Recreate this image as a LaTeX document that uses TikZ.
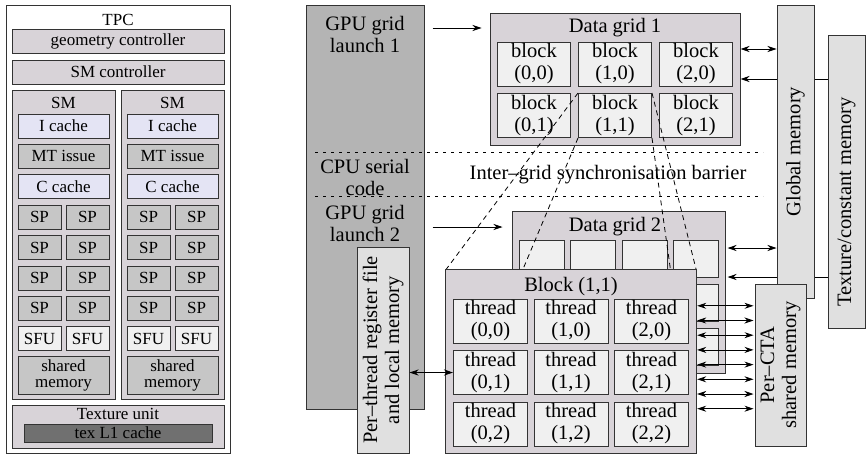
\documentclass[tikz,border=0pt]{standalone}
\usepackage{fontspec}
\setmainfont{Liberation Serif}
\usetikzlibrary{arrows.meta}

\definecolor{edge}{HTML}{333333}
\definecolor{mauve}{HTML}{D8D3D8}
\definecolor{lavender}{HTML}{E4E4F4}
\definecolor{midgray}{HTML}{C6C6C6}
\definecolor{palegray}{HTML}{F0F0F0}
\definecolor{memgray}{HTML}{E0E0E0}
\definecolor{gpugray}{HTML}{B4B4B4}
\definecolor{texgray}{HTML}{707070}

\begin{document}
\begin{tikzpicture}
  [x=1pt,y=-1pt,
   box/.style={draw=edge,line width=1pt,inner sep=0pt,align=center},
   lftfont/.style={font=\fontsize{17}{16}\selectfont},
   rgtfont/.style={font=\fontsize{20.5}{22}\selectfont},
   lft/.style={box,lftfont},
   rgt/.style={box,rgtfont},
   txt/.style={inner sep=0pt,align=center},
   conn/.style={line width=0.8pt,-{Stealth[length=9pt,width=6pt]}},
   biconn/.style={line width=0.8pt,{Stealth[length=9pt,width=6pt]}-{Stealth[length=9pt,width=6pt]}},
   syncline/.style={line width=0.8pt,dash pattern=on 2.5pt off 5.5pt},
   zoomline/.style={line width=0.8pt,dash pattern=on 5pt off 4pt}]
  \useasboundingbox (0,0) rectangle (866,455);

  \node[box,fill=white,minimum width=224,minimum height=448] (tpc) at (118,229) {};
  \node[txt,lftfont] (tpclabel) at (118,20) {TPC};
  \node[lft,fill=mauve,minimum width=212,minimum height=24] (geo) at (118,41) {geometry controller};
  \node[lft,fill=mauve,minimum width=212,minimum height=24] (smctrl) at (118,72) {SM controller};
  \foreach \s/\x in {a/63.5,b/172.5} {
    \node[lft,fill=mauve,minimum width=103,minimum height=309] (sm\s) at (\x,244.5) {};
    \node[txt,lftfont] (smlabel\s) at (\x,103) {SM};
    \node[lft,fill=lavender,minimum width=91,minimum height=24] (icache\s) at (\x,126) {I cache};
    \node[lft,fill=midgray,minimum width=91,minimum height=24] (mtissue\s) at (\x,156.4) {MT issue};
    \node[lft,fill=lavender,minimum width=91,minimum height=24] (ccache\s) at (\x,186.8) {C cache};
    \foreach \r/\y in {1/217.2,2/247.6,3/278,4/308.4} {
      \node[lft,fill=midgray,minimum width=43,minimum height=24] (sp\s\r-l) at (\x-24,\y) {SP};
      \node[lft,fill=midgray,minimum width=43,minimum height=24] (sp\s\r-r) at (\x+24,\y) {SP};
    }
    \node[lft,fill=palegray,minimum width=43,minimum height=24] (sfu\s-l) at (\x-24,338.8) {SFU};
    \node[lft,fill=palegray,minimum width=43,minimum height=24] (sfu\s-r) at (\x+24,338.8) {SFU};
    \node[lft,fill=midgray,minimum width=91,minimum height=38] (shmem\s) at (\x,375) {shared\\memory};
  }
  \node[lft,fill=mauve,minimum width=212,minimum height=43] (texunit) at (118,426.5) {};
  \node[txt,lftfont] (texlabel) at (118,414) {Texture unit};
  \node[lft,fill=texgray,minimum width=188,minimum height=18] (texl1) at (118,433) {tex L1 cache};

  \node[box,fill=gpugray,minimum width=118,minimum height=404] (gpu) at (365,207) {};
  \node[txt,rgtfont] (launch1) at (365,34) {GPU grid\\launch 1};
  \node[txt,rgtfont] (serial) at (365,177) {CPU serial\\code};
  \node[txt,rgtfont] (launch2) at (365,223) {GPU grid\\launch 2};
  \draw[syncline] (315,152) -- (763,152) (315,196) -- (763,196);
  \node[txt,rgtfont] (barrier) at (608,175) {Inter–grid synchronisation barrier};

  \node[box,fill=mauve,minimum width=250,minimum height=132] (grid1) at (615,79) {};
  \node[txt,rgtfont] (grid1title) at (615,28) {Data grid 1};
  \foreach \i/\x in {0/534,1/615,2/696}
    \foreach \j/\y in {0/64,1/115.5}
      \node[rgt,fill=palegray,minimum width=73,minimum height=44] (blk\i\j) at (\x,\y) {block\\(\i,\j)};

  \node[box,fill=mauve,minimum width=213,minimum height=162] (grid2) at (618.5,292) {};
  \node[txt,rgtfont] (grid2title) at (615,227) {Data grid 2};
  \foreach \i/\x in {0/541.5,1/593,2/644.5,3/696}
    \foreach \j/\y in {0/258.5,1/302.5,2/346.5}
      \node[box,fill=palegray,minimum width=45,minimum height=37] (cell\i\j) at (\x,\y) {};

  \draw[conn,shorten <=8pt,shorten >=8pt] (gpu.east |- grid1title) -- (grid1.west |- grid1title);
  \draw[conn,shorten <=8pt,shorten >=9pt] (gpu.east |- grid2title) -- (grid2.west |- grid2title);

  \node[box,fill=memgray,rotate=90,minimum width=293,minimum height=37] (texmem) at (846.5,181.5) {};
  \node[txt,rgtfont,rotate=90] (texmemlabel) at (846.5,202) {Texture/constant memory};
  \coordinate (grid1hi) at ([yshift=30pt]grid1.east);
  \coordinate (grid2hi) at ([yshift=44pt]grid2.east);
  \coordinate (grid2lo) at ([yshift=15pt]grid2.east);
  \draw[conn] (texmem.north |- grid1.east) -- (grid1.east);
  \draw[conn,shorten >=2pt] (texmem.north |- grid2lo) -- (grid2lo);
  \node[rgt,fill=memgray,rotate=90,minimum width=293,minimum height=37] (global) at (795.5,151.5) {Global memory};
  \draw[biconn] (grid1hi) -- (global.north |- grid1hi);
  \draw[biconn,shorten <=2pt] (grid2hi) -- (global.north |- grid2hi);

  \path (571,361.5) node[minimum width=250,minimum height=183,inner sep=0pt] (block) {};
  \foreach \a in {north west,south west,north east,south east}
    \draw[zoomline] (blk11.\a) -- (block.\a);
  \draw[draw=edge,line width=1pt,fill=mauve] (block.north west) rectangle (block.south east);
  \node[txt,rgtfont] (blocktitle) at (571,286.5) {Block (1,1)};
  \foreach \i/\x in {0/490.5,1/571,2/651.5}
    \foreach \j/\y in {0/321,1/372.5,2/424}
      \node[rgt,fill=palegray,minimum width=74,minimum height=44] (thr\i\j) at (\x,\y) {thread\\(\i,\j)};

  \node[rgt,fill=memgray,rotate=90,minimum width=206,minimum height=52] (regfile) at (383,350) {Per–thread register file\\and local memory};
  \draw[biconn] (regfile.south |- thr01) -- (thr01.west);

  \node[rgt,fill=memgray,rotate=90,minimum width=162,minimum height=51] (ctamem) at (780.5,365) {Per–CTA\\shared memory};
  \foreach \k [evaluate=\k as \dy using 36+14.7*\k] in {0,...,7} {
    \coordinate (cta\k) at ([yshift=-\dy]block.north east);
    \draw[biconn,shorten <=1pt,shorten >=1pt] (cta\k) -- (ctamem.north |- cta\k);
  }
\end{tikzpicture}
\end{document}
